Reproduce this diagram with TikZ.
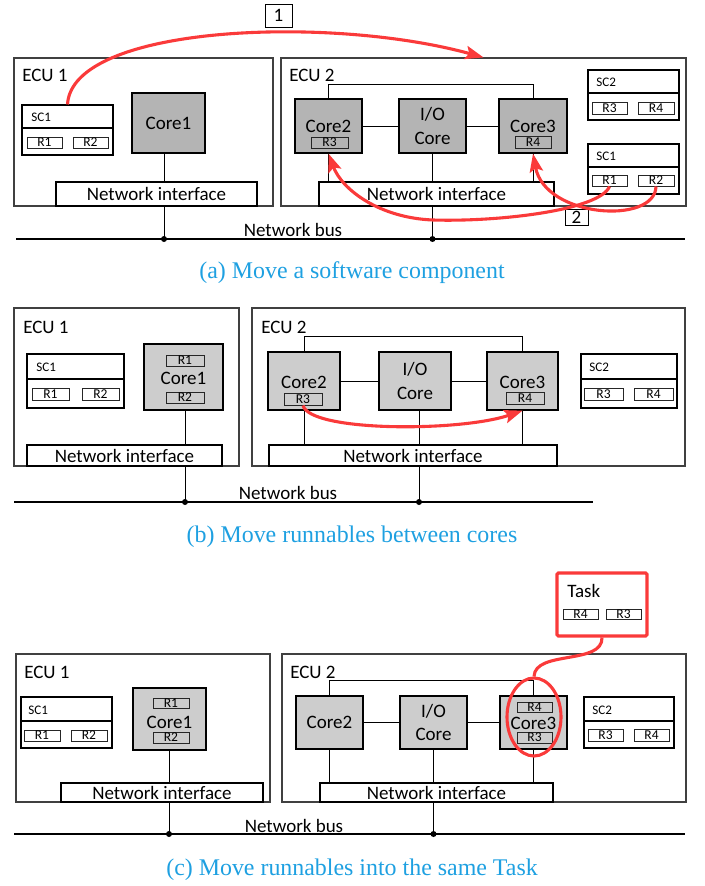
\documentclass[tikz,border=0pt]{standalone}
\usepackage{fontspec}
\setmainfont{Carlito}
\newfontfamily\capfont{Liberation Serif}
\usetikzlibrary{fit,arrows.meta,shapes.geometric}

\definecolor{redc}{RGB}{250,58,58}
\definecolor{capblue}{RGB}{30,160,225}
\definecolor{coreA}{RGB}{180,180,180}
\definecolor{coreB}{RGB}{205,205,205}

% rectangle given by two corners: name, x1, y1, x2, y2, style
\newcommand\bx[6]{\node[#6, inner sep=0pt, fit={(#2,#3) (#4,#5)}] (#1) {};}
% the same, with a text centred in it
\newcommand\bxt[7]{\bx{#1}{#2}{#3}{#4}{#5}{#6}%
  \node[#6, draw=none, fill=none, inner sep=0pt, rounded corners=0pt] (#1t) at (#1.center) {#7};}

\tikzset{
  lbl/.style={font=\fontsize{13.5}{17}\selectfont, inner sep=0pt},
  small/.style={font=\fontsize{9.3}{10}\selectfont, inner sep=0pt},
  ecubox/.style={draw=black!75, line width=0.8pt},
  corebox/.style={draw=black, line width=0.9pt, fill=#1, font=\fontsize{13.5}{17}\selectfont, align=center},
  nibox/.style={draw=black, line width=0.8pt, fill=white, font=\fontsize{13.5}{17}\selectfont},
  scbox/.style={draw=black, line width=0.8pt, fill=white},
  rbox/.style={draw=black!85, line width=0.7pt, fill=#1, font=\fontsize{9.6}{10}\selectfont},
  rbox/.default=white,
  numbox/.style={draw=black, line width=0.7pt, fill=white, font=\fontsize{13.5}{16}\selectfont},
  taskbox/.style={draw=redc, line width=2.2pt, fill=white, rounded corners=1pt},
  wire/.style={draw=black, line width=0.7pt},
  busline/.style={draw=black, line width=0.8pt},
  busdot/.style={circle, fill=black, inner sep=0pt, minimum size=0.15cm},
  move/.style={draw=redc, line width=2.2pt, -{Stealth[length=13pt,width=9.5pt,inset=2.5pt]}},
  link/.style={draw=redc, line width=2.2pt},
  ring/.style={ellipse, draw=redc, line width=2.2pt, inner sep=0pt},
  caption/.style={font=\capfont\fontsize{17}{20}\selectfont, text=capblue, inner sep=0pt},
}

\begin{document}
\begin{tikzpicture}[x=0.025cm, y=-0.025cm]
\useasboundingbox (0,0) rectangle (704,886);

% ================= (a) Move a software component =================
% ECU 1
\bx{ecu1a}{14}{58}{273}{206}{ecubox}
\node[lbl, anchor=west] (ecu1al) at (22,75) {ECU 1};
\bx{sc1ah}{22}{105}{113}{128}{scbox}
\bx{sc1ab}{22}{128}{113}{155}{scbox}
\node[small, anchor=west] (sc1al) at (31,117) {SC1};
\bxt{r1a}{27}{137}{62}{148}{rbox}{R1}
\bxt{r2a}{73}{137}{108}{148}{rbox}{R2}
\bxt{core1a}{132}{93}{205}{153}{corebox=coreA}{Core1}
\bxt{ni1a}{56}{182}{257}{206}{nibox}{Network interface}
% ECU 2
\bx{ecu2a}{281}{58}{686}{206}{ecubox}
\node[lbl, anchor=west] (ecu2al) at (289,75) {ECU 2};
\bx{core2a}{295}{99}{362}{153}{corebox=coreA}
\node[lbl] (core2al) at (328.5,126) {Core2};
\bxt{r3a}{311}{137}{348}{148}{rbox=coreA}{R3}
\bxt{ioa}{399}{99}{466}{153}{corebox=coreA}{I/O\\Core}
\bx{core3a}{499}{99}{567}{153}{corebox=coreA}
\node[lbl] (core3al) at (533,126) {Core3};
\bxt{r4a}{515}{136}{551}{148}{rbox=coreA}{R4}
\bxt{ni2a}{319}{182}{554}{206}{nibox}{Network interface}
\bx{sc2ah}{588}{70}{679}{93}{scbox}
\bx{sc2ab}{588}{93}{679}{120}{scbox}
\node[small, anchor=west] (sc2al) at (596,82) {SC2};
\bxt{r3sa}{592}{102}{627}{114}{rbox}{R3}
\bxt{r4sa}{638}{102}{674}{114}{rbox}{R4}
\bx{sc1bh}{588}{144}{679}{167}{scbox}
\bx{sc1bb}{588}{167}{679}{194}{scbox}
\node[small, anchor=west] (sc1bl) at (596,156) {SC1};
\bxt{r1sa}{592}{175}{627}{186}{rbox}{R1}
\bxt{r2sa}{638}{175}{674}{186}{rbox}{R2}
% wiring and bus
\coordinate (busaL) at (16,239);
\coordinate (busaR) at (685,239);
\coordinate (d1a) at (164,239);
\draw[busline] (busaL) -- (busaR);
\draw[wire] (core1a.south -| d1a) -- (ni1a.north -| d1a);
\draw[wire] (ni1a.south -| d1a) -- (d1a);
\draw[wire] (core2a.north) -- (core2a.north |- 0,84) -- (core3a.north |- 0,84) -- (core3a.north);
\draw[wire] (core2a) -- (ioa);
\draw[wire] (ioa) -- (core3a);
\draw[wire] (core2a.south) -- (core2a.south |- ni2a.north);
\draw[wire] (ioa.south) -- (ioa.south |- ni2a.north);
\draw[wire] (core3a.south) -- (core3a.south |- ni2a.north);
\draw[wire] (ioa.south |- ni2a.south) -- (ioa.south |- busaL);
\node[busdot] (dot1a) at (d1a) {};
\node[busdot] (dot2a) at (ioa.south |- busaL) {};
\node[lbl] (busal) at (293,230) {Network bus};
% moves
\bxt{n1}{265}{4}{292}{27}{numbox}{1}
\bxt{n2}{565}{209}{588}{225}{numbox}{2}
\draw[move] (sc1ah.north) .. controls (72,25) and (330,15) .. (ecu2a.north);
\draw[move] (r1sa.south) .. controls (600,210) and (500,222) .. (433,220)
  .. controls (380,218) and (342,190) .. (core2a.south);
\draw[move] (r2sa.south) .. controls (655,225) and (545,218) .. (core3a.south);
\node[caption] (capa) at (352,273) {(a) Move a software component};

% ================= (b) Move runnables between cores =================
\bx{ecu1b}{14}{308}{239}{466}{ecubox}
\node[lbl, anchor=west] (ecu1bl) at (23,327) {ECU 1};
\bx{sc1ch}{27}{354}{124}{379}{scbox}
\bx{sc1cb}{27}{379}{124}{408}{scbox}
\node[small, anchor=west] (sc1cl) at (36,367) {SC1};
\bxt{r1b}{32}{388}{69}{400}{rbox}{R1}
\bxt{r2b}{82}{388}{119}{400}{rbox}{R2}
\bx{core1b}{144}{344}{223}{410}{corebox=coreB}
\node[lbl] (core1bl) at (183.5,378) {Core1};
\bxt{r1cb}{166}{355}{204}{366}{rbox=coreB}{R1}
\bxt{r2cb}{166}{392}{204}{403}{rbox=coreB}{R2}
\bxt{ni1b}{27}{445}{222}{466}{nibox}{Network interface}
\bx{ecu2b}{252}{308}{685}{466}{ecubox}
\node[lbl, anchor=west] (ecu2bl) at (261,327) {ECU 2};
\bx{core2b}{268}{352}{340}{410}{corebox=coreB}
\node[lbl] (core2bl) at (304,382) {Core2};
\bxt{r3b}{284}{393}{322}{405}{rbox=coreB}{R3}
\bxt{iob}{379}{352}{451}{410}{corebox=coreB}{I/O\\Core}
\bx{core3b}{487}{352}{558}{410}{corebox=coreB}
\node[lbl] (core3bl) at (522.5,382) {Core3};
\bxt{r4b}{506}{392}{544}{404}{rbox=coreB}{R4}
\bxt{ni2b}{269}{445}{557}{466}{nibox}{Network interface}
\bx{sc2bh}{581}{354}{677}{379}{scbox}
\bx{sc2bb}{581}{379}{677}{408}{scbox}
\node[small, anchor=west] (sc2bl) at (589,367) {SC2};
\bxt{r3sb}{584}{388}{623}{400}{rbox}{R3}
\bxt{r4sb}{634}{388}{673}{400}{rbox}{R4}
% wiring and bus
\coordinate (busbL) at (14,502);
\coordinate (busbR) at (593,502);
\coordinate (d1b) at (185,502);
\coordinate (d2b) at (419,502);
\draw[busline] (busbL) -- (busbR);
\draw[wire] (core1b.south -| d1b) -- (ni1b.north -| d1b);
\draw[wire] (ni1b.south -| d1b) -- (d1b);
\draw[wire] (core2b.north) -- (core2b.north |- 0,336) -- (core3b.north |- 0,336) -- (core3b.north);
\draw[wire] (core2b) -- (iob);
\draw[wire] (iob) -- (core3b);
\draw[wire] (core2b.south) -- (core2b.south |- ni2b.north);
\draw[wire] (iob.south -| d2b) -- (ni2b.north -| d2b);
\draw[wire] (core3b.south) -- (core3b.south |- ni2b.north);
\draw[wire] (ni2b.south -| d2b) -- (d2b);
\node[busdot] (dot1b) at (d1b) {};
\node[busdot] (dot2b) at (d2b) {};
\node[lbl] (busbl) at (288,493) {Network bus};
\draw[move] (r3b.south) .. controls (310,432) and (460,432) .. (core3b.south);
\node[caption] (capb) at (352,537) {(b) Move runnables between cores};

% ================= (c) Move runnables into the same Task =================
\bx{ecu1c}{16}{654}{270}{802}{ecubox}
\node[lbl, anchor=west] (ecu1cl) at (24,672) {ECU 1};
\bx{sc1dh}{21}{697}{112}{721}{scbox}
\bx{sc1db}{21}{721}{112}{748}{scbox}
\node[small, anchor=west] (sc1dl) at (28,710) {SC1};
\bxt{r1c}{24}{730}{60}{741}{rbox}{R1}
\bxt{r2c}{71}{730}{107}{741}{rbox}{R2}
\bx{core1c}{133}{688}{206}{750}{corebox=coreB}
\node[lbl] (core1cl) at (169.5,722) {Core1};
\bxt{r1cc}{153}{698}{189}{708}{rbox=coreB}{R1}
\bxt{r2cc}{153}{732}{189}{743}{rbox=coreB}{R2}
\bxt{ni1c}{61}{783}{263}{802}{nibox}{Network interface}
\bx{ecu2c}{282}{654}{686}{802}{ecubox}
\node[lbl, anchor=west] (ecu2cl) at (290,672) {ECU 2};
\bxt{core2c}{296}{696}{363}{749}{corebox=coreB}{Core2}
\bxt{ioc}{400}{696}{467}{749}{corebox=coreB}{I/O\\Core}
\bx{core3c}{500}{696}{567}{749}{corebox=coreB}
\node[lbl] (core3cl) at (533.5,723) {Core3};
\bxt{r4cc}{517}{702}{552}{712}{rbox=coreB}{R4}
\bxt{r3cc}{517}{732}{552}{743}{rbox=coreB}{R3}
\bxt{ni2c}{320}{783}{553}{802}{nibox}{Network interface}
\bx{sc2ch}{584}{697}{674}{721}{scbox}
\bx{sc2cb}{584}{721}{674}{748}{scbox}
\node[small, anchor=west] (sc2cl) at (592,710) {SC2};
\bxt{r3sc}{588}{729}{623}{741}{rbox}{R3}
\bxt{r4sc}{634}{729}{669}{741}{rbox}{R4}
% the task
\bx{task}{557}{573}{647}{636}{taskbox}
\node[lbl, anchor=west] (taskl) at (567,591) {Task};
\bxt{r4t}{563}{609}{598}{619}{rbox}{R4}
\bxt{r3t}{606}{609}{641}{619}{rbox}{R3}
% wiring and bus
\coordinate (buscL) at (14,834);
\coordinate (buscR) at (685,834);
\coordinate (d1c) at (169,834);
\draw[busline] (buscL) -- (buscR);
\draw[wire] (core1c.south -| d1c) -- (ni1c.north -| d1c);
\draw[wire] (ni1c.south -| d1c) -- (d1c);
\draw[wire] (core2c.north) -- (core2c.north |- 0,680) -- (core3c.north |- 0,680) -- (core3c.north);
\draw[wire] (core2c) -- (ioc);
\draw[wire] (ioc) -- (core3c);
\draw[wire] (core2c.south) -- (core2c.south |- ni2c.north);
\draw[wire] (ioc.south) -- (ioc.south |- ni2c.north);
\draw[wire] (core3c.south) -- (core3c.south |- ni2c.north);
\draw[wire] (ioc.south |- ni2c.south) -- (ioc.south |- buscL);
\node[busdot] (dot1c) at (d1c) {};
\node[busdot] (dot2c) at (ioc.south |- buscL) {};
\node[lbl] (buscl) at (294,826) {Network bus};
% highlight of the merged runnables
\node[ring, minimum width=1.35cm, minimum height=1.95cm] (hl) at (534,717) {};
\draw[link] (task.south) .. controls (603,665) and (535,650) .. (hl.north);
\node[caption] (capc) at (352,870) {(c) Move runnables into the same Task};
\end{tikzpicture}
\end{document}
